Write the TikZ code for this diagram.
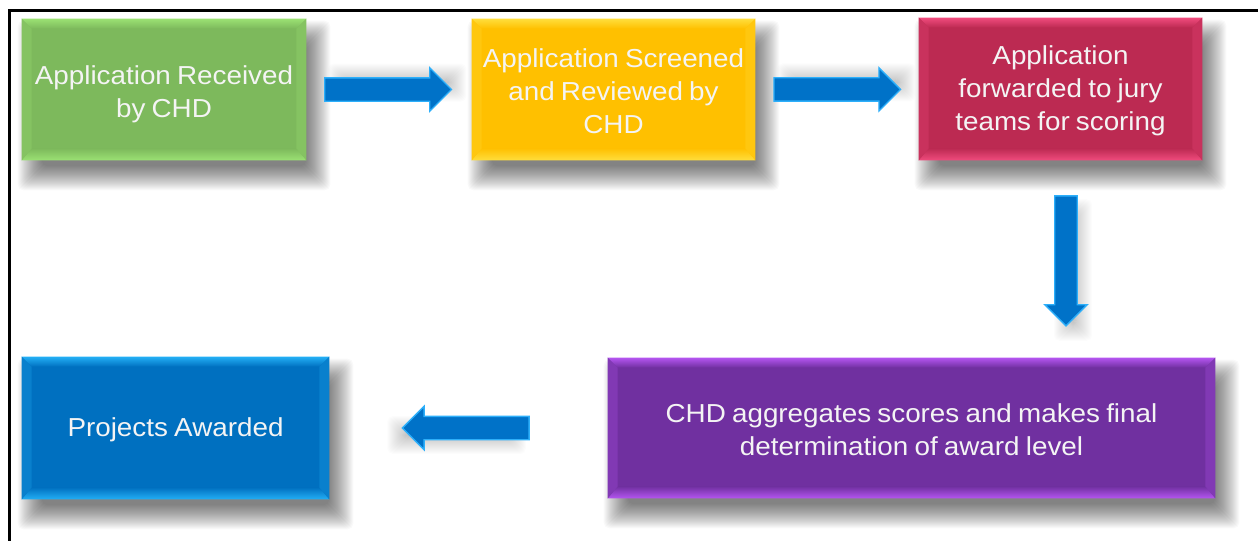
\documentclass[tikz,border=0pt]{standalone}
\usepackage{fontspec}
\setmainfont{Liberation Sans}[FakeStretch=1.07, WordSpace=0.8]
\usetikzlibrary{calc,shapes.arrows}
\pgfdeclarelayer{bgzero}
\pgfdeclarelayer{shadowlayer}
\pgfsetlayers{bgzero,shadowlayer,main}
\definecolor{gmain}{RGB}{125,185,92}
\definecolor{glight}{RGB}{155,225,115}
\definecolor{ymain}{RGB}{255,192,0}
\definecolor{ylight}{RGB}{255,222,60}
\definecolor{rmain}{RGB}{188,42,82}
\definecolor{rlight}{RGB}{240,75,125}
\definecolor{bmain}{RGB}{0,112,192}
\definecolor{blight}{RGB}{35,175,245}
\definecolor{pmain}{RGB}{112,48,160}
\definecolor{plight}{RGB}{180,85,240}
\definecolor{amain}{RGB}{0,114,200}
\definecolor{alight}{RGB}{45,175,250}
\definecolor{txt}{RGB}{244,244,244}
\newcommand{\bevel}[3]{%
  \shade[top color=#2, bottom color=#3] (#1.north west) -- (#1.north east) -- ($(#1.north east)+(-10,10)$) -- ($(#1.north west)+(10,10)$) -- cycle;
  \shade[top color=#3, bottom color=#2] (#1.south west) -- (#1.south east) -- ($(#1.south east)+(-10,-12)$) -- ($(#1.south west)+(10,-12)$) -- cycle;
  \fill[#2!25!#3] (#1.north west) -- ($(#1.north west)+(10,10)$) -- ($(#1.south west)+(10,-12)$) -- (#1.south west) -- cycle;
  \fill[#2!25!#3] (#1.north east) -- ($(#1.north east)+(-10,10)$) -- ($(#1.south east)+(-10,-12)$) -- (#1.south east) -- cycle;
}
% soft shadow: #1 = nw point, #2 = se point, #3 = opacity of each layer
\newcommand{\softshadow}[3]{%
  \foreach \k in {-10,-9,...,14} {
    \fill[black, opacity=#3, rounded corners=4pt] ($#1+(-\k,-\k)$) rectangle ($#2+(\k,\k)$);
  }%
}
\begin{document}
\begin{tikzpicture}[x=0.75pt,y=-0.75pt,
  box/.style={rectangle, inner sep=0pt, fill=#1},
  barrow/.style={single arrow, single arrow head extend=7.5pt, single arrow tip angle=90,
    inner xsep=0pt, inner ysep=8.25pt, fill=amain, draw=alight, line width=1pt,
    minimum height=95pt, anchor=tail},
  lbl/.style={text=txt, align=center, font=\fontsize{19.5pt}{24.75pt}\selectfont}
]
\useasboundingbox (0,0) rectangle (1258,540);
\clip (0,0) rectangle (1258,540);
\begin{pgfonlayer}{bgzero}
\fill[white] (0,0) rectangle (1258,540);
\end{pgfonlayer}

\node[box=gmain, minimum width=213pt, minimum height=105.75pt] (g) at (164,89.5) {};
\node[box=ymain, minimum width=212.25pt, minimum height=105.75pt] (y) at (613.5,89.5) {};
\node[box=rmain, minimum width=212.25pt, minimum height=106.5pt] (r) at (1060.5,89) {};
\node[box=bmain, minimum width=230.25pt, minimum height=106.5pt] (b) at (175.5,428) {};
\node[box=pmain, minimum width=455.25pt, minimum height=105pt] (p) at (911.5,428) {};

\bevel{g}{glight}{gmain}
\bevel{y}{ylight}{ymain}
\bevel{r}{rlight}{rmain}
\bevel{b}{blight}{bmain}
\bevel{p}{plight}{pmain}

\node[lbl] (gt) at ($(g)+(0,5)$) {Application Received\\by CHD};
\node[lbl] (yt) at ($(y)+(0,2)$) {Application Screened\\and Reviewed by\\CHD};
\node[lbl] (rt) at ($(r)+(0,2)$) {Application\\forwarded to jury\\teams for scoring};
\node[lbl] (bt) at ($(b)+(0,2)$) {Projects Awarded};
\node[lbl] (pt) at ($(p)+(0,2)$) {CHD aggregates scores and makes final\\determination of award level};

\path (g.east) -- (y.west) node[pos=0.108, barrow] (a1) {};
\path (y.east) -- (r.west) node[pos=0.11, barrow] (a2) {};
\coordinate (dtop) at ($(r.south)+(5.5,0)$);
\path (dtop) -- (dtop |- p.north) node[pos=0.177, barrow, rotate=-90, minimum height=97.5pt, inner ysep=7.9pt] (a3) {};
\path (p.west) -- (b.east) node[pos=0.28, barrow, rotate=180] (a4) {};

\begin{pgfonlayer}{shadowlayer}
\softshadow{(g.north west)+(10,16)}{(g.south east)+(10,16)}{0.023}
\softshadow{(y.north west)+(10,16)}{(y.south east)+(10,16)}{0.023}
\softshadow{(r.north west)+(10,16)}{(r.south east)+(10,16)}{0.023}
\softshadow{(b.north west)+(10,16)}{(b.south east)+(10,16)}{0.023}
\softshadow{(p.north west)+(10,16)}{(p.south east)+(10,16)}{0.023}
\softshadow{(a1.tail)+(18,-12)}{(a1.tip)+(0,-2)}{0.013}
\softshadow{(a2.tail)+(18,-12)}{(a2.tip)+(0,-2)}{0.013}
\softshadow{(a3.tail)+(2,18)}{(a3.tip)+(12,0)}{0.013}
\softshadow{(a4.tip)+(0,2)}{(a4.tail)+(-18,12)}{0.013}
\end{pgfonlayer}

\draw[line width=2.25pt] (9,560) -- (9,10.5) -- (1270,10.5);
\end{tikzpicture}
\end{document}
